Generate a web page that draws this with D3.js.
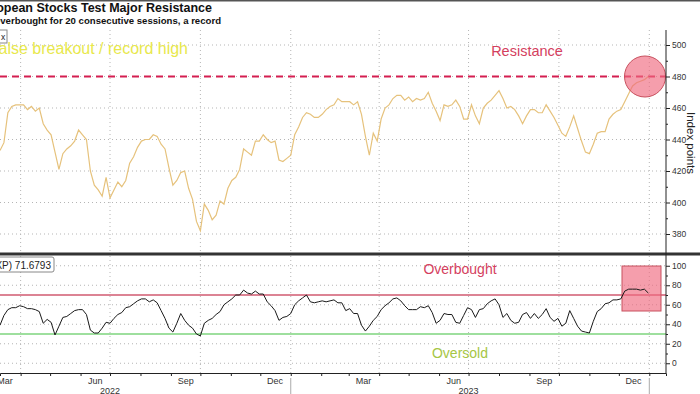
<!DOCTYPE html>
<html>
<head>
<meta charset="utf-8">
<script src="https://cdn.jsdelivr.net/npm/d3@7"></script>
<style>
  body { margin: 0; background: #fff; }
  svg { display: block; font-family: "Liberation Sans", Arial, sans-serif; }
</style>
</head>
<body>
<div id="chart"></div>
<script>
var width = 700,
    height = 394;

// STOXX 600 close, one reading every 4 days from 11 Mar 2022
var price = [
  433, 438, 457, 461, 462, 462, 462, 459, 461, 458, 460, 450, 446, 443, 432, 421,
  431, 434, 436, 439, 446, 443, 440, 420, 411, 408, 404, 416, 403, 408, 413, 410,
  414, 425, 429, 435, 439, 440, 440, 443, 442, 437, 434, 422, 411, 414, 419, 420,
  409, 402, 388, 382, 399, 395, 389, 392, 401, 399, 409, 414, 416, 421, 434, 432,
  430, 439, 439, 443, 440, 438, 439, 427, 426, 428, 430, 443, 448, 454, 457, 456,
  454, 454, 456, 459, 461, 462, 466, 464, 464, 464, 462, 464, 456, 442, 430, 444,
  439, 453, 460, 462, 466, 468, 468, 465, 467, 464, 466, 465, 466, 470, 463, 458,
  452, 462, 461, 462, 465, 461, 453, 453, 462, 455, 450, 460, 463, 465, 468, 471,
  466, 460, 461, 459, 455, 450, 455, 459, 459, 457, 457, 462, 458, 454, 449, 444,
  442, 448, 455, 447, 439, 432, 431, 437, 444, 445, 445, 453, 456, 458, 459, 464,
  469, 474, 476, 477, 478, 480
];

// 14-day RSI, same dates
var rsi = [
  39, 49, 55, 57, 57, 59, 58, 56, 56, 55, 53, 41, 45, 42, 29, 38,
  47, 48, 51, 54, 55, 55, 50, 34, 31, 31, 36, 42, 41, 46, 50, 52,
  57, 58, 61, 64, 66, 66, 63, 65, 62, 54, 46, 36, 32, 41, 51, 44,
  39, 36, 30, 28, 41, 44, 46, 50, 53, 60, 63, 66, 70, 70, 75, 72,
  71, 74, 71, 71, 63, 59, 54, 44, 47, 48, 51, 60, 64, 67, 70, 63,
  62, 63, 64, 63, 64, 65, 62, 62, 54, 56, 51, 51, 39, 33, 38, 44,
  48, 55, 59, 62, 66, 67, 64, 59, 55, 55, 55, 58, 57, 59, 52, 41,
  44, 51, 50, 50, 42, 41, 49, 57, 55, 47, 55, 56, 61, 64, 66, 60,
  47, 51, 44, 41, 42, 50, 52, 46, 51, 46, 50, 56, 47, 43, 46, 38,
  41, 54, 46, 38, 33, 32, 31, 43, 53, 56, 61, 62, 65, 65, 66, 74,
  76, 76, 76, 75, 76, 72
];

var dates = d3.timeDay.range(new Date(2022, 2, 11), new Date(2024, 0, 1), 4).slice(0, price.length);

var priceTicks = [380, 400, 420, 440, 460, 480, 500];
var priceMinor = [390, 410, 430, 450, 470, 490];
var rsiTicks = [0, 20, 40, 60, 80, 100];
var rsiMinor = [10, 30, 50, 70, 90];
var resistance = 480;
var overbought = 70, oversold = 30;

var monthLabels = ["Mar", "Jun", "Sep", "Dec", "Mar", "Jun", "Sep", "Dec"];
var monthLabelDates = ["2022-03-16", "2022-06-16", "2022-09-16", "2022-12-16",
                       "2023-03-16", "2023-06-16", "2023-09-16", "2023-12-16"];
var yearLabels = ["2022", "2023"];
var yearLabelDates = ["2022-07-01", "2023-07-01"];
var yearBreaks = ["2023-01-01", "2024-01-01"];
var quarterStarts = ["2022-04-01", "2022-07-01", "2022-10-01", "2023-01-01",
                     "2023-04-01", "2023-07-01", "2023-10-01", "2024-01-01"];

var parse = d3.timeParse("%Y-%m-%d");

var data = dates.map(function(d, i) { return {date: d, price: price[i], rsi: rsi[i]}; });

var x = d3.scaleTime()
    .domain([new Date(2022, 2, 11), new Date(2024, 0, 18)])
    .range([0, 666]);

var yP = d3.scaleLinear().domain([380, 500]).range([234, 45]);
var yR = d3.scaleLinear().domain([0, 100]).range([363.25, 265.75]);

var svg = d3.select("#chart").append("svg")
    .attr("width", width)
    .attr("height", height);

svg.append("defs").append("clipPath").attr("id", "clipTop")
  .append("rect").attr("x", 0).attr("y", 28).attr("width", 666).attr("height", 224);
svg.select("defs").append("clipPath").attr("id", "clipBot")
  .append("rect").attr("x", 0).attr("y", 256).attr("width", 666).attr("height", 117);

// top frame line
svg.append("rect").attr("x", 0).attr("y", 0).attr("width", width).attr("height", 1.5).style("fill", "#555");

// title
svg.append("text")
    .attr("x", 212).attr("y", 12)
    .style("text-anchor", "end")
    .style("font-size", "12.5px").style("font-weight", "bold").style("fill", "#111")
    .text("European Stocks Test Major Resistance");
svg.append("text")
    .attr("x", 221).attr("y", 24)
    .style("text-anchor", "end")
    .style("font-size", "9.6px").style("font-weight", "bold").style("fill", "#111")
    .text("Overbought for 20 consecutive sessions, a record");

var grid = svg.append("g").style("stroke", "#b5b5b5").style("stroke-width", 1).style("stroke-dasharray", "1,3");

grid.selectAll(".hp").data(priceTicks).enter().append("line")
    .attr("x1", 0).attr("x2", 666)
    .attr("y1", function(d) { return yP(d); }).attr("y2", function(d) { return yP(d); });
grid.selectAll(".hr").data(rsiTicks).enter().append("line")
    .attr("x1", 0).attr("x2", 666)
    .attr("y1", function(d) { return yR(d); }).attr("y2", function(d) { return yR(d); });
grid.selectAll(".vt").data(quarterStarts).enter().append("line")
    .attr("x1", function(d) { return x(parse(d)); }).attr("x2", function(d) { return x(parse(d)); })
    .attr("y1", 30).attr("y2", 252);
grid.selectAll(".vb").data(quarterStarts).enter().append("line")
    .attr("x1", function(d) { return x(parse(d)); }).attr("x2", function(d) { return x(parse(d)); })
    .attr("y1", 256).attr("y2", 373);

// resistance
svg.append("line")
    .attr("x1", 0).attr("x2", 666)
    .attr("y1", yP(resistance)).attr("y2", yP(resistance))
    .style("stroke", "#d41e50").style("stroke-width", 2).style("stroke-dasharray", "7,5");

// price line
svg.append("path")
    .datum(data)
    .attr("clip-path", "url(#clipTop)")
    .attr("d", d3.line().x(function(d) { return x(d.date); }).y(function(d) { return yP(d.price); }))
    .style("fill", "none").style("stroke", "#e6c27c").style("stroke-width", 1.2);

svg.append("circle")
    .attr("cx", 645).attr("cy", yP(resistance)).attr("r", 20.5)
    .style("fill", "#f06a80").style("fill-opacity", 0.65)
    .style("stroke", "#c8505e").style("stroke-width", 1);

svg.append("text")
    .attr("x", 527).attr("y", 56)
    .style("text-anchor", "middle").style("font-size", "14.5px").style("fill", "#d4405e")
    .text("Resistance");

svg.append("text")
    .attr("x", 188).attr("y", 54)
    .style("text-anchor", "end").style("font-size", "16px").style("fill", "#e8e84c")
    .text("False breakout / record high");

svg.append("rect")
    .attr("x", -10).attr("y", 30).attr("width", 17).attr("height", 13)
    .style("fill", "#fff").style("stroke", "#888");
svg.append("text")
    .attr("x", 1).attr("y", 39.5).style("font-size", "8.5px").style("fill", "#222").text("x");

// panel separator
svg.append("rect").attr("x", 0).attr("y", 252.5).attr("width", width).attr("height", 3).style("fill", "#333");

// RSI reference lines
svg.append("line")
    .attr("x1", 0).attr("x2", 666)
    .attr("y1", yR(overbought)).attr("y2", yR(overbought))
    .style("stroke", "#d05a70").style("stroke-width", 1.3);
svg.append("line")
    .attr("x1", 0).attr("x2", 666)
    .attr("y1", yR(oversold)).attr("y2", yR(oversold))
    .style("stroke", "#7ed47e").style("stroke-width", 1.3);

svg.append("rect")
    .attr("x", 622).attr("y", 266).attr("width", 39).attr("height", 45)
    .style("fill", "#f06a80").style("fill-opacity", 0.65)
    .style("stroke", "#c8505e").style("stroke-width", 1);

svg.append("path")
    .datum(data)
    .attr("clip-path", "url(#clipBot)")
    .attr("d", d3.line().x(function(d) { return x(d.date); }).y(function(d) { return yR(d.rsi); }))
    .style("fill", "none").style("stroke", "#1a1a1a").style("stroke-width", 1);

svg.append("text")
    .attr("x", 460).attr("y", 274)
    .style("text-anchor", "middle").style("font-size", "14px").style("fill", "#d4405e")
    .text("Overbought");
svg.append("text")
    .attr("x", 460).attr("y", 358)
    .style("text-anchor", "middle").style("font-size", "14px").style("fill", "#a6c644")
    .text("Oversold");

svg.append("rect")
    .attr("x", -10).attr("y", 257).attr("width", 64).attr("height", 15)
    .attr("rx", 2)
    .style("fill", "#fff").style("stroke", "#888");
svg.append("text")
    .attr("x", 51).attr("y", 268.5)
    .style("text-anchor", "end").style("font-size", "10px").style("fill", "#222")
    .text("RSI (SXXP) 71.6793");

// right axes
svg.append("line").attr("x1", 666).attr("x2", 666).attr("y1", 30).attr("y2", 373).style("stroke", "#222");

function styleAxis(g) {
  g.select(".domain").remove();
  g.selectAll("line").style("stroke", "#222");
  g.selectAll("text").style("font-family", "Liberation Sans, Arial, sans-serif").style("font-size", "8.5px").style("fill", "#333");
}

svg.append("g").attr("transform", "translate(666,0)")
    .call(d3.axisRight(yP).tickValues(priceTicks).tickSize(4).tickPadding(2))
    .call(styleAxis);
svg.append("g").attr("transform", "translate(666,0)")
    .call(d3.axisRight(yP).tickValues(priceMinor).tickSize(2).tickFormat(""))
    .call(styleAxis);
svg.append("g").attr("transform", "translate(666,0)")
    .call(d3.axisRight(yR).tickValues(rsiTicks).tickSize(4).tickPadding(2))
    .call(styleAxis);
svg.append("g").attr("transform", "translate(666,0)")
    .call(d3.axisRight(yR).tickValues(rsiMinor).tickSize(2).tickFormat(""))
    .call(styleAxis);

svg.append("text")
    .attr("transform", "translate(687,143) rotate(90)")
    .style("text-anchor", "middle").style("font-size", "11.5px").style("fill", "#222")
    .text("Index points");

// bottom axis
svg.append("g").attr("transform", "translate(0,373)")
    .call(d3.axisBottom(x).ticks(d3.timeMonth.every(1)).tickSize(3).tickFormat(""))
    .call(function(g) {
      g.select(".domain").style("stroke", "#222");
      g.selectAll("line").style("stroke", "#222");
    });

svg.selectAll(".month").data(monthLabels).enter().append("text")
    .attr("x", function(d, i) { return x(parse(monthLabelDates[i])); })
    .attr("y", 384)
    .style("text-anchor", "middle").style("font-size", "9px").style("fill", "#333")
    .text(function(d) { return d; });

svg.selectAll(".year").data(yearLabels).enter().append("text")
    .attr("x", function(d, i) { return x(parse(yearLabelDates[i])); })
    .attr("y", 394)
    .style("text-anchor", "middle").style("font-size", "9px").style("fill", "#333")
    .text(function(d) { return d; });

svg.selectAll(".ybreak").data(yearBreaks).enter().append("line")
    .attr("x1", function(d) { return x(parse(d)); }).attr("x2", function(d) { return x(parse(d)); })
    .attr("y1", 378).attr("y2", 394)
    .style("stroke", "#aaa");
</script>
</body>
</html>
